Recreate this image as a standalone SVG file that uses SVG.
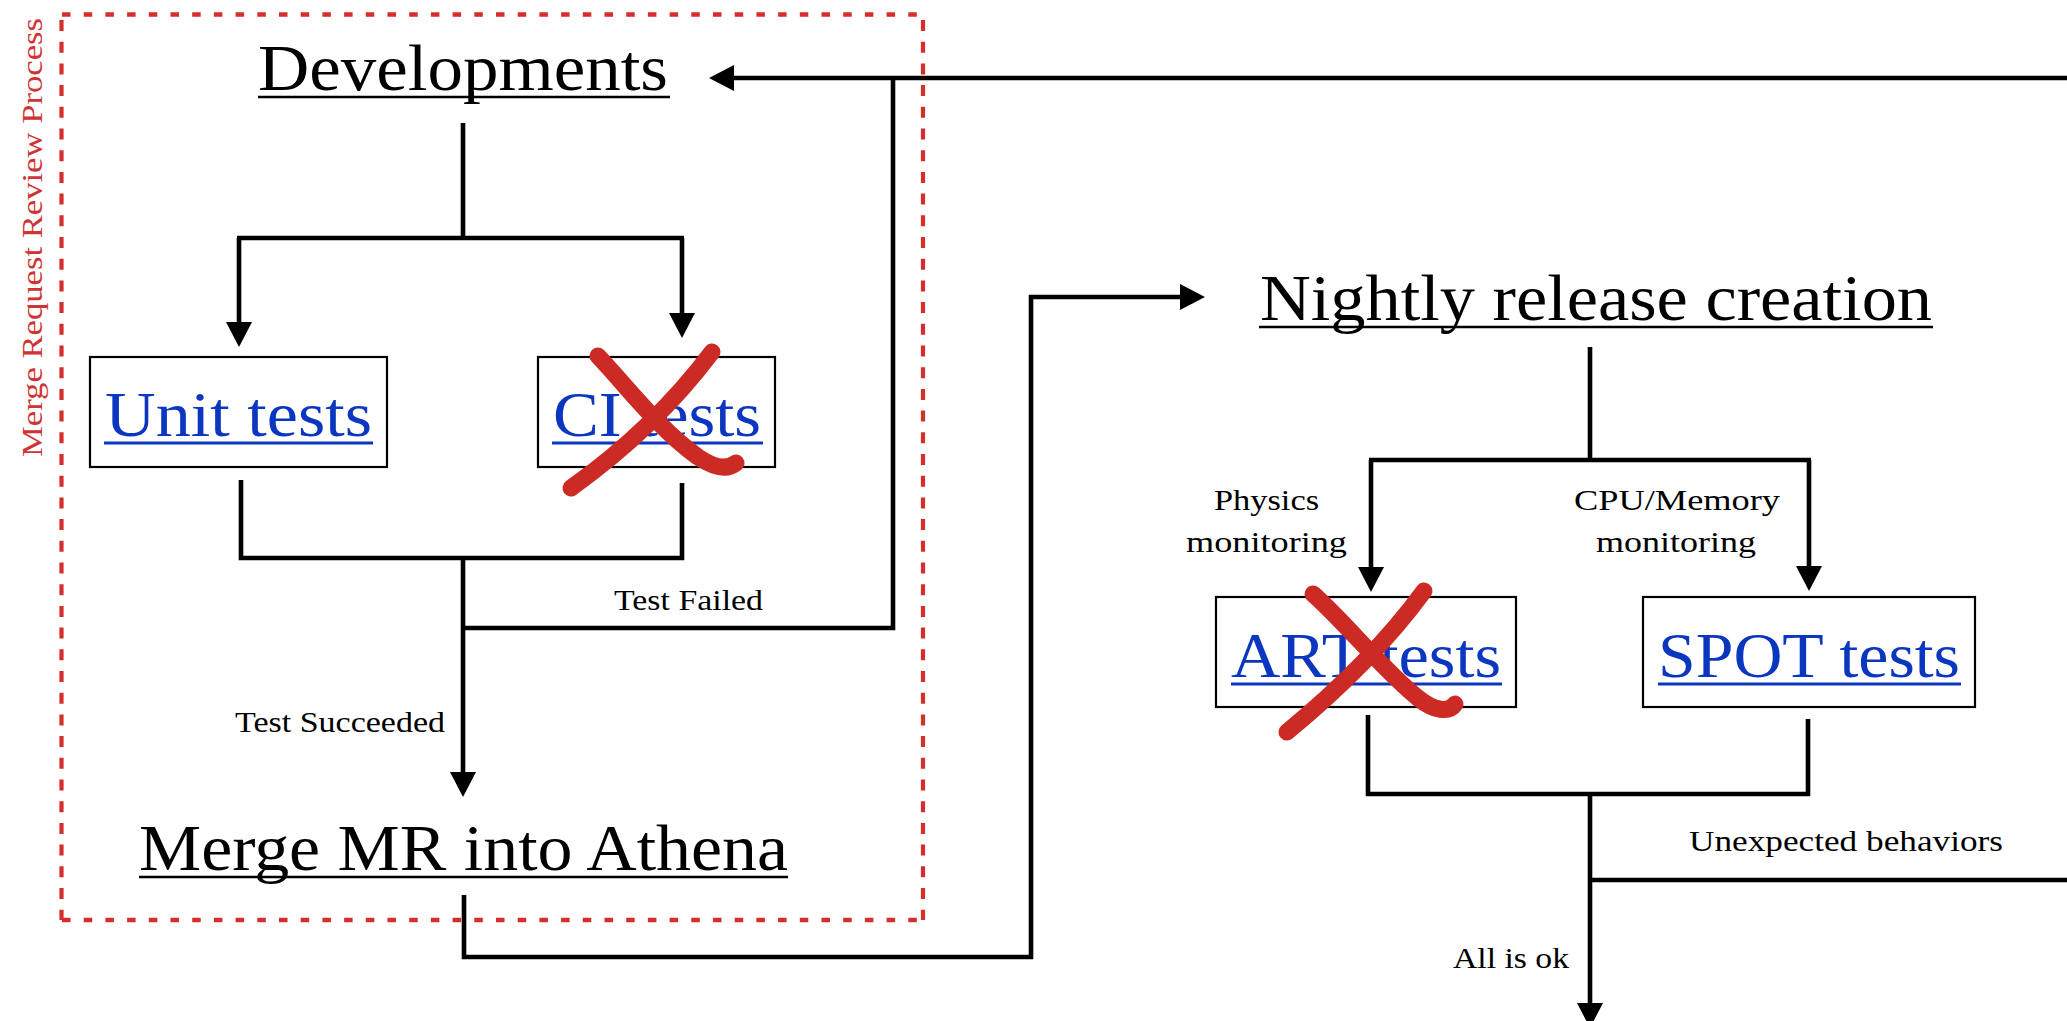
<svg xmlns="http://www.w3.org/2000/svg" width="2067" height="1021" viewBox="0 0 2067 1021">
  <style>
    .title { font-family: "Liberation Serif", "DejaVu Serif", serif; font-size: 66px; fill: #000; }
    .link { font-family: "Liberation Serif", "DejaVu Serif", serif; font-size: 63px; fill: #0b36c0; }
    .lbl { font-family: "Liberation Serif", "DejaVu Serif", serif; font-size: 30px; fill: #000; }
    .ul { stroke: #000; stroke-width: 2.6; }
    .ulb { stroke: #0b36c0; stroke-width: 3; }
    .box { fill: #fff; stroke: #000; stroke-width: 2.2; }
    .conn { fill: none; stroke: #000; stroke-width: 4.6; stroke-linecap: butt; stroke-linejoin: miter; }
    .arr { marker-end: url(#ah); }
    .cross { fill: none; stroke: #cc2a24; stroke-width: 17; stroke-linecap: round; stroke-linejoin: round; }
    .dash-h { stroke: #d62d2d; stroke-width: 4.6; stroke-dasharray: 8.5 13.2; }
    .dash-v { stroke: #d62d2d; stroke-width: 4.2; stroke-dasharray: 11 10.7; }
    .grp { font-family: "Liberation Serif", "DejaVu Serif", serif; font-size: 30px; fill: #d03333; }
  </style>
  <defs>
    <marker id="ah" markerUnits="userSpaceOnUse" markerWidth="27" markerHeight="28" refX="15" refY="13" orient="auto">
      <path d="M0,0 L25,13 L0,26 z" fill="#000"/>
    </marker>
  </defs>
  <rect width="2067" height="1021" fill="#fff"/>

  <g id="review-process">
    <line class="dash-h" x1="62" y1="14.5" x2="923" y2="14.5"/>
    <line class="dash-h" x1="62" y1="920" x2="923" y2="920"/>
    <line class="dash-v" x1="61.5" y1="20" x2="61.5" y2="920"/>
    <line class="dash-v" x1="923" y1="20" x2="923" y2="920"/>
    <text class="grp" transform="translate(42,457) rotate(-90)" x="0" y="0" textLength="439" lengthAdjust="spacingAndGlyphs">Merge Request Review Process</text>
  </g>

  <g id="connectors">
    <path class="conn arr" d="M2067,78 H719"/>
    <path class="conn" d="M463,628 H893 V76"/>
    <path class="conn" d="M463,123 V238"/>
    <path class="conn" d="M237,238 H684"/>
    <path class="conn arr" d="M239,238 V337"/>
    <path class="conn arr" d="M682,238 V328"/>
    <path class="conn" d="M241,480 V558 H682 V483"/>
    <path class="conn arr" d="M463,558 V787"/>
    <path class="conn" d="M464,895 V957 H1031 V295"/>
    <path class="conn arr" d="M1029,297 H1195"/>
    <path class="conn" d="M1590,347 V460"/>
    <path class="conn" d="M1369,460 H1811"/>
    <path class="conn arr" d="M1371,460 V582"/>
    <path class="conn arr" d="M1809,460 V581"/>
    <path class="conn" d="M1368,715 V794 H1808 V719"/>
    <path class="conn arr" d="M1590,794 V1018"/>
    <path class="conn" d="M1590,880 H2067"/>
  </g>

  <g id="edge-labels">
    <text class="lbl" x="614" y="610" textLength="149" lengthAdjust="spacingAndGlyphs">Test Failed</text>
    <text class="lbl" x="235" y="732" textLength="210" lengthAdjust="spacingAndGlyphs">Test Succeeded</text>
    <text class="lbl" x="1214" y="510" textLength="105" lengthAdjust="spacingAndGlyphs">Physics</text>
    <text class="lbl" x="1186" y="552" textLength="161" lengthAdjust="spacingAndGlyphs">monitoring</text>
    <text class="lbl" x="1574" y="510" textLength="206" lengthAdjust="spacingAndGlyphs">CPU/Memory</text>
    <text class="lbl" x="1596" y="552" textLength="160" lengthAdjust="spacingAndGlyphs">monitoring</text>
    <text class="lbl" x="1689" y="851" textLength="314" lengthAdjust="spacingAndGlyphs">Unexpected behaviors</text>
    <text class="lbl" x="1453" y="968" textLength="116" lengthAdjust="spacingAndGlyphs">All is ok</text>
  </g>

  <g id="developments">
    <text class="title" x="258" y="90" textLength="410" lengthAdjust="spacingAndGlyphs">Developments</text>
    <line class="ul" x1="258" y1="97" x2="670" y2="97"/>
  </g>

  <g id="unit-tests">
    <rect class="box" x="90" y="357" width="297" height="110"/>
    <text class="link" x="105" y="436" textLength="267" lengthAdjust="spacingAndGlyphs">Unit tests</text>
    <line class="ulb" x1="104" y1="443" x2="373" y2="443"/>
  </g>

  <g id="ci-tests">
    <rect class="box" x="538" y="357" width="237" height="110"/>
    <text class="link" x="553" y="436" textLength="208" lengthAdjust="spacingAndGlyphs">CI tests</text>
    <line class="ulb" x1="552" y1="443" x2="763" y2="443"/>
    <path class="cross" d="M598,356 C630,390 660,430 698,457 C713,467 726,471 736,463"/>
    <path class="cross" d="M712,352 Q655,428 571,488"/>
  </g>

  <g id="merge-mr">
    <text class="title" x="139" y="870" textLength="649" lengthAdjust="spacingAndGlyphs">Merge MR into Athena</text>
    <line class="ul" x1="139" y1="877" x2="788" y2="877"/>
  </g>

  <g id="nightly">
    <text class="title" x="1260" y="320" textLength="672" lengthAdjust="spacingAndGlyphs">Nightly release creation</text>
    <line class="ul" x1="1259" y1="327" x2="1933" y2="327"/>
  </g>

  <g id="art-tests">
    <rect class="box" x="1216" y="597" width="300" height="110"/>
    <text class="link" x="1231" y="677" textLength="270" lengthAdjust="spacingAndGlyphs">ART tests</text>
    <line class="ulb" x1="1231" y1="684" x2="1502" y2="684"/>
    <path class="cross" d="M1313,594 C1345,622 1383,670 1418,698 C1434,711 1449,713 1455,704"/>
    <path class="cross" d="M1424,591 Q1372,662 1287,732"/>
  </g>

  <g id="spot-tests">
    <rect class="box" x="1643" y="597" width="332" height="110"/>
    <text class="link" x="1658" y="677" textLength="302" lengthAdjust="spacingAndGlyphs">SPOT tests</text>
    <line class="ulb" x1="1658" y1="684" x2="1961" y2="684"/>
  </g>
</svg>
